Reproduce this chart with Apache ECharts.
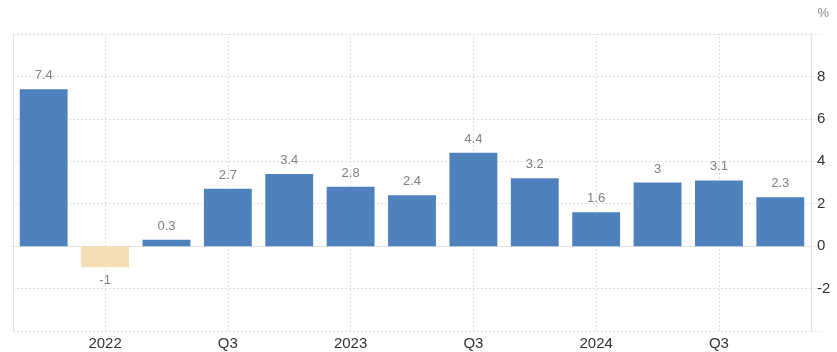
<!DOCTYPE html>
<html>
<head>
<meta charset="utf-8">
<script src="https://cdn.jsdelivr.net/npm/echarts@6/dist/echarts.min.js"></script>
<style>
html,body{margin:0;padding:0;background:#fff;}
#c{width:837px;height:352px;}
</style>
</head>
<body>
<div id="c"></div>
<script>
var categories = ['Q4 2021','Q1 2022','Q2 2022','Q3 2022','Q4 2022','Q1 2023','Q2 2023','Q3 2023','Q4 2023','Q1 2024','Q2 2024','Q3 2024','Q4 2024'];
var values = [7.4, -1, 0.3, 2.7, 3.4, 2.8, 2.4, 4.4, 3.2, 1.6, 3, 3.1, 2.3];
var xTickLabels = ['', '2022', '', 'Q3', '', '2023', '', 'Q3', '', '2024', '', 'Q3', ''];
var yTicks = [-4, -2, 0, 2, 4, 6, 8, 10];
var yShownLabels = [-2, 0, 2, 4, 6, 8];

var POS = '#4f81bd', NEG = '#f5deb3';
var FONT = 'Arial, "Liberation Sans", sans-serif';
var data = values.map(function (v) {
  return {
    value: v,
    itemStyle: { color: v < 0 ? NEG : POS },
    label: { position: v < 0 ? 'bottom' : 'top' }
  };
});
var vLines = [];
xTickLabels.forEach(function (t, i) { if (t !== '') vLines.push({ xAxis: categories[i] }); });

var chart = echarts.init(document.getElementById('c'), null, { renderer: 'canvas' });
chart.setOption({
  animation: false,
  backgroundColor: '#ffffff',
  grid: { left: 13, right: 26, top: 34, bottom: 21, containLabel: false },
  graphic: [{
    type: 'text', right: 8, top: 7,
    style: { text: '%', fill: '#888', font: '13px ' + FONT }
  }],
  xAxis: {
    type: 'category',
    data: categories,
    boundaryGap: true,
    axisLine: { show: true, lineStyle: { color: '#e0e0e0', width: 1 } },
    axisTick: { show: false },
    axisLabel: {
      interval: 0,
      formatter: function (v, i) { return xTickLabels[i]; },
      color: '#333',
      fontSize: 15,
      fontFamily: FONT,
      margin: 5
    },
    splitLine: { show: false }
  },
  yAxis: [{
    type: 'value',
    position: 'right',
    min: yTicks[0],
    max: yTicks[yTicks.length - 1],
    interval: 2,
    axisLine: { show: true, lineStyle: { color: '#e0e0e0', width: 1 } },
    axisTick: { show: true, length: 10, inside: false, lineStyle: { color: '#e6e6e6', type: [2, 2] } },
    axisLabel: {
      margin: 6,
      color: '#333',
      fontSize: 15,
      fontFamily: FONT,
      formatter: function (v) { return yShownLabels.indexOf(v) >= 0 ? String(v) : ''; }
    },
    splitLine: { show: true, lineStyle: { color: '#dedede', type: [2, 2], width: 1 } }
  }, {
    type: 'value',
    position: 'left',
    min: yTicks[0],
    max: yTicks[yTicks.length - 1],
    interval: 2,
    axisLine: { show: true, lineStyle: { color: '#e0e0e0', width: 1 } },
    axisTick: { show: false },
    axisLabel: { show: false },
    splitLine: { show: false }
  }],
  series: [{
    type: 'line',
    data: [],
    z: 0,
    silent: true,
    markLine: {
      z: 0,
      silent: true,
      symbol: 'none',
      label: { show: false },
      lineStyle: { color: '#dedede', type: [2, 2], width: 1 },
      data: vLines
    }
  }, {
    type: 'bar',
    data: data,
    z: 3,
    barWidth: '78%',
    label: {
      show: true,
      distance: 7,
      color: '#808080',
      fontSize: 13,
      fontFamily: FONT,
      formatter: function (p) { return String(p.value); }
    }
  }]
});
</script>
</body>
</html>
